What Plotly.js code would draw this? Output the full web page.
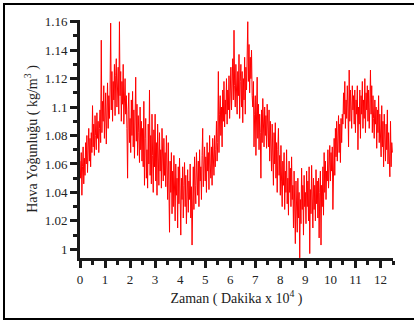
<!DOCTYPE html>
<html>
<head>
<meta charset="utf-8">
<script src="https://cdn.plot.ly/plotly-3.0.1.min.js"></script>
<style>
  html, body { margin: 0; padding: 0; background: #fff; overflow: hidden; }
  #wrap { position: relative; width: 414px; height: 320px; }
  #chart { position: absolute; left: 0; top: 0; width: 414px; height: 320px; }
  #frame { position: absolute; left: 3px; top: 3px; width: 440px; height: 317px;
           box-sizing: border-box; border: 2px solid #000; pointer-events: none; }
</style>
</head>
<body>
<div id="wrap">
  <div id="chart"></div>
  <div id="frame"></div>
</div>
<script>
// Sampling grid of the time axis (x 10^4 minutes)
const timeStart = 0;
const timeStep = 0.025;

// Air density readings (kg/m^3), one per time step
const density = [
  1.062, 1.050, 1.068, 1.038, 1.058, 1.072, 1.046, 1.064, 1.052, 1.075, 1.060, 1.080, 1.054, 1.070, 1.085, 1.062, 1.078, 1.058, 1.082, 1.068,
  1.101, 1.072, 1.088, 1.066, 1.094, 1.080, 1.070, 1.096, 1.078, 1.090, 1.068, 1.085, 1.098, 1.075, 1.147, 1.082, 1.104, 1.090, 1.115, 1.078,
  1.095, 1.110, 1.074, 1.102, 1.117, 1.085, 1.108, 1.092, 1.112, 1.159, 1.098, 1.125, 1.090, 1.118, 1.105, 1.130, 1.094, 1.122, 1.134, 1.100,
  1.115, 1.128, 1.095, 1.160, 1.108, 1.125, 1.090, 1.118, 1.102, 1.130, 1.088, 1.112, 1.120, 1.095, 1.108, 1.085, 1.050, 1.098, 1.110, 1.075,
  1.092, 1.068, 1.105, 1.080, 1.111, 1.072, 1.098, 1.064, 1.088, 1.121, 1.076, 1.102, 1.066, 1.094, 1.082, 1.061, 1.100, 1.070, 1.090, 1.062,
  1.085, 1.058, 1.104, 1.045, 1.078, 1.092, 1.050, 1.070, 1.043, 1.088, 1.060, 1.112, 1.052, 1.080, 1.046, 1.095, 1.066, 1.040, 1.084, 1.058,
  1.095, 1.048, 1.075, 1.038, 1.088, 1.060, 1.045, 1.082, 1.055, 1.070, 1.043, 1.085, 1.062, 1.048, 1.078, 1.052, 1.068, 1.044, 1.080, 1.058,
  1.035, 1.075, 1.050, 1.012, 1.062, 1.040, 1.068, 1.025, 1.055, 1.030, 1.066, 1.045, 1.020, 1.060, 1.038, 1.050, 1.015, 1.058, 1.032, 1.064,
  1.028, 1.010, 1.050, 1.035, 1.058, 1.022, 1.045, 1.061, 1.030, 1.052, 1.018, 1.040, 1.056, 1.026, 1.048, 1.035, 1.060, 1.022, 1.044, 1.003,
  1.040, 1.058, 1.028, 1.065, 1.045, 1.032, 1.068, 1.050, 1.038, 1.062, 1.030, 1.070, 1.048, 1.058, 1.035, 1.066, 1.085, 1.044, 1.060, 1.072,
  1.048, 1.065, 1.040, 1.075, 1.055, 1.068, 1.042, 1.080, 1.060, 1.050, 1.072, 1.045, 1.078, 1.062, 1.052, 1.080, 1.058, 1.070, 1.090, 1.062,
  1.075, 1.125, 1.068, 1.095, 1.108, 1.080, 1.100, 1.072, 1.112, 1.090, 1.118, 1.086, 1.105, 1.095, 1.120, 1.088, 1.112, 1.098, 1.122, 1.092,
  1.110, 1.128, 1.098, 1.120, 1.134, 1.105, 1.154, 1.115, 1.100, 1.130, 1.112, 1.095, 1.125, 1.108, 1.137, 1.092, 1.118, 1.130, 1.100, 1.125,
  1.089, 1.120, 1.105, 1.135, 1.095, 1.128, 1.112, 1.137, 1.160, 1.118, 1.144, 1.110, 1.135, 1.120, 1.140, 1.108, 1.100, 1.118, 1.072, 1.095,
  1.108, 1.066, 1.090, 1.121, 1.078, 1.102, 1.070, 1.095, 1.082, 1.050, 1.098, 1.075, 1.106, 1.085, 1.072, 1.100, 1.080, 1.094, 1.071, 1.102,
  1.085, 1.072, 1.098, 1.062, 1.090, 1.078, 1.055, 1.088, 1.068, 1.045, 1.082, 1.060, 1.089, 1.050, 1.075, 1.040, 1.070, 1.085, 1.052, 1.066,
  1.038, 1.073, 1.048, 1.030, 1.062, 1.045, 1.068, 1.028, 1.055, 1.040, 1.070, 1.032, 1.050, 1.024, 1.062, 1.040, 1.057, 1.030, 1.065, 1.035,
  1.045, 1.015, 1.055, 1.025, 1.004, 1.048, 1.030, 1.012, 1.050, 1.022, 1.040, 0.994, 1.035, 1.018, 1.057, 1.028, 1.045, 1.010, 1.052, 1.030,
  1.040, 1.018, 1.055, 1.030, 1.048, 1.020, 1.058, 0.997, 1.042, 1.025, 1.059, 1.035, 1.015, 1.050, 1.028, 1.045, 1.020, 1.056, 1.032, 1.048,
  1.022, 1.050, 1.008, 1.040, 1.055, 1.003, 1.045, 1.030, 1.058, 1.024, 1.068, 1.040, 1.062, 1.035, 1.055, 1.048, 1.070, 1.043, 1.065, 1.073,
  1.048, 1.068, 1.055, 1.072, 1.028, 1.060, 1.078, 1.052, 1.085, 1.065, 1.090, 1.062, 1.080, 1.094, 1.068, 1.088, 1.061, 1.092, 1.075, 1.095,
  1.088, 1.110, 1.095, 1.118, 1.085, 1.105, 1.092, 1.115, 1.100, 1.072, 1.126, 1.090, 1.112, 1.095, 1.085, 1.115, 1.098, 1.108, 1.088, 1.112,
  1.082, 1.105, 1.095, 1.115, 1.070, 1.100, 1.088, 1.112, 1.078, 1.108, 1.095, 1.118, 1.085, 1.105, 1.092, 1.120, 1.082, 1.110, 1.098, 1.115,
  1.090, 1.112, 1.085, 1.100, 1.126, 1.095, 1.115, 1.082, 1.108, 1.092, 1.078, 1.105, 1.088, 1.100, 1.071, 1.098, 1.082, 1.108, 1.075, 1.095,
  1.085, 1.065, 1.101, 1.072, 1.090, 1.058, 1.095, 1.078, 1.062, 1.088, 1.070, 1.098, 1.060, 1.082, 1.068, 1.051, 1.090, 1.058, 1.075, 1.068
];

const time = density.map((_, i) => +(timeStart + i * timeStep).toFixed(3));

const xTitle = 'Zaman ( Dakika x 10<sup>4</sup> )';
const yTitle = 'Hava Yoğunluğu ( kg/m<sup>3</sup> )';

const fontFamily = '"Liberation Serif", "Times New Roman", serif';

const trace = {
  x: time,
  y: density,
  type: 'scatter',
  mode: 'lines',
  line: { color: '#ff0000', width: 1 },
  hoverinfo: 'none'
};

const axisCommon = {
  showgrid: false,
  zeroline: false,
  showline: true,
  linecolor: '#1a1a1a',
  linewidth: 3,
  ticks: 'outside',
  ticklen: 7,
  tickwidth: 3,
  tickcolor: '#1a1a1a',
  tickfont: { family: fontFamily, size: 13, color: '#222' },
  automargin: false,
  fixedrange: true
};

const layout = {
  width: 414,
  height: 320,
  margin: { l: 80, r: 21, t: 20, b: 62 },
  paper_bgcolor: '#ffffff',
  plot_bgcolor: '#ffffff',
  showlegend: false,
  font: { family: fontFamily, color: '#222' },
  xaxis: Object.assign({}, axisCommon, {
    range: [0, 12.5],
    tick0: 0,
    dtick: 1,
    minor: { dtick: 0.5, ticks: 'outside', ticklen: 4, tickwidth: 3, tickcolor: '#1a1a1a', showgrid: false },
    title: { text: xTitle, font: { family: fontFamily, size: 14, color: '#222' }, standoff: 8 }
  }),
  yaxis: Object.assign({}, axisCommon, {
    range: [0.9939, 1.1612],
    tick0: 1,
    dtick: 0.02,
    minor: { dtick: 0.01, ticks: 'outside', ticklen: 4, tickwidth: 3, tickcolor: '#1a1a1a', showgrid: false },
    title: { text: yTitle, font: { family: fontFamily, size: 14, color: '#222' }, standoff: 4 }
  })
};

Plotly.newPlot('chart', [trace], layout, { staticPlot: true, displayModeBar: false });
</script>
</body>
</html>
